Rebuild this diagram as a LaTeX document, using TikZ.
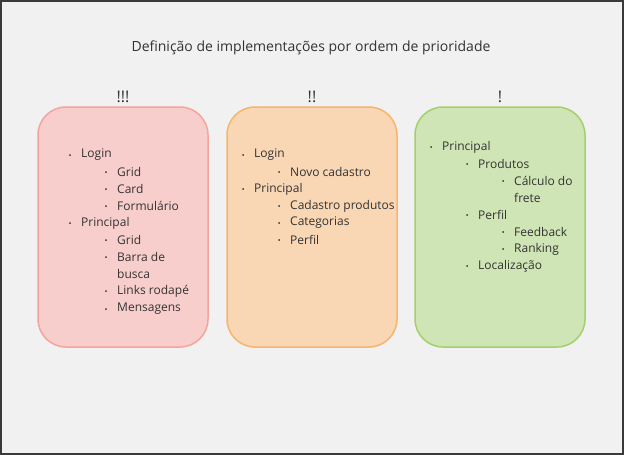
\documentclass[tikz,border=0pt]{standalone}
\usepackage{fontspec}
\setmainfont{Open Sans}
\usetikzlibrary{positioning}

\definecolor{pagebg}{HTML}{F1F1F1}
\definecolor{pageline}{HTML}{3A3A3A}
\definecolor{txtgray}{HTML}{333333}
\definecolor{redfill}{HTML}{F8CECC}
\definecolor{redline}{HTML}{F5A49D}
\definecolor{orangefill}{HTML}{F9D7B4}
\definecolor{orangeline}{HTML}{F6B46C}
\definecolor{greenfill}{HTML}{CFE5B6}
\definecolor{greenline}{HTML}{A3D06C}

\tikzset{
  prio box/.style={draw, line width=1.5pt, rounded corners=28pt,
    minimum width=170pt, minimum height=240pt, inner sep=0pt},
  marks/.style={font=\fontsize{16}{18}\selectfont, text=txtgray, inner sep=0pt},
  item/.style={anchor=west, inner sep=0pt, text=txtgray,
    font=\fontsize{12}{14}\selectfont},
}

\begin{document}
\begin{tikzpicture}[x=1pt,y=-1pt]
    % Page
    \draw[pageline, fill=pagebg, line width=2pt] (1,1) rectangle (623,454);

    % Title
    \node[text=txtgray, font=\fontsize{14}{16}\selectfont] (title) at (311,48)
        {Definição de implementações por ordem de prioridade};

    % Priority boxes
    \node[prio box, draw=redline, fill=redfill] (high) at (123,227) {};
    \node[prio box, draw=orangeline, fill=orangefill] (mid) at (312,227) {};
    \node[prio box, draw=greenline, fill=greenfill] (low) at (500,227) {};

    % Marks over boxes
    \node[marks, above=3pt of high] (highmark) {!!!};
    \node[marks, above=3pt of mid] (midmark) {!!};
    \node[marks, above=3pt of low] (lowmark) {!};

    % Items: x/y/text/name
    \foreach \x/\y/\t/\n in {
        81/153/Login/r1, 117/170/Grid/r2, 117/187/Card/r3,
        117/204/Formulário/r4, 81/221/Principal/r5, 117/238/Grid/r6,
        117/255/Barra de/r7, 117/289/Links rodapé/r9,
        117/307/Mensagens/r10,
        254/153/Login/o1, 290/170/Novo cadastro/o2, 254/187/Principal/o3,
        290/204/Cadastro produtos/o4, 290/221/Categorias/o5,
        290/238/Perfil/o6,
        442/145/Principal/g1, 478/162/Produtos/g2, 514/179/Cálculo do/g3,
        478/213/Perfil/g5, 514/230/Feedback/g6, 514/247/Ranking/g7,
        478/264/Localização/g8} {
        \fill[txtgray] (\x-11,\y+2) circle (1pt);
        \node[item] (\n) at (\x,\y+2) {\t};
    }

    % Wrapped lines
    \node[item] (r8) at (117,274) {busca};
    \node[item] (g4) at (514,198) {frete};
\end{tikzpicture}
\end{document}
